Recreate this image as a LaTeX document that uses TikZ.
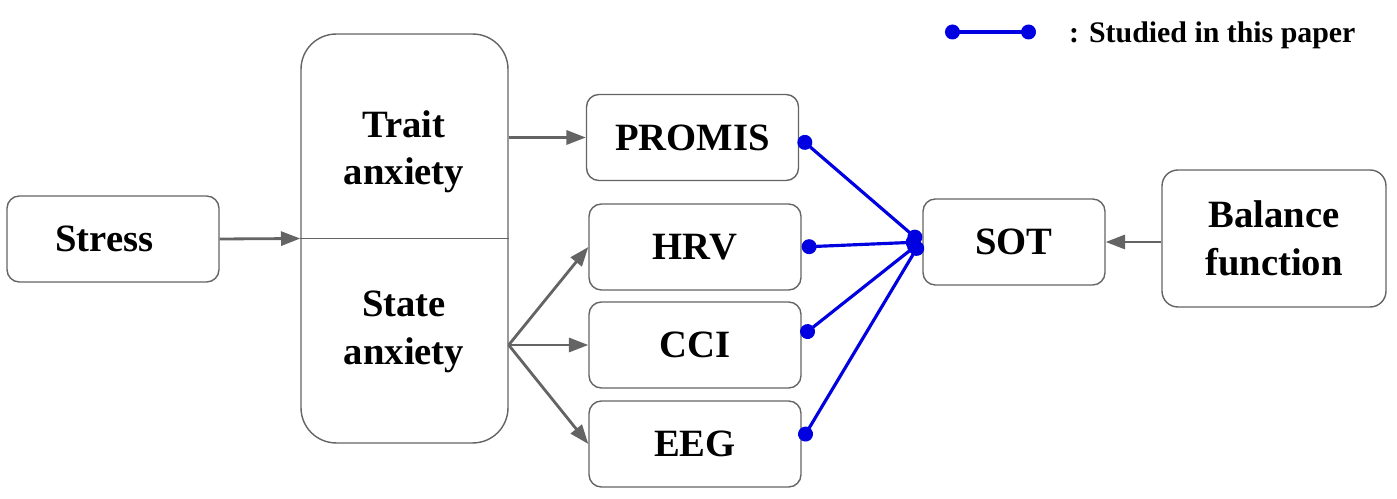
\documentclass[tikz,border=0pt]{standalone}
\usepackage{fontspec}
\setmainfont{Liberation Serif}
\usetikzlibrary{arrows.meta}
\definecolor{linegray}{RGB}{100,100,100}
\definecolor{studyblue}{RGB}{0,0,225}
\tikzstyle{block}=[rectangle, draw=linegray, line width=0.8pt, rounded corners=7pt, align=center, font=\bfseries\fontsize{22}{27}\selectfont, minimum width=4.24cm, minimum height=1.72cm]
\tikzstyle{txt}=[align=center, font=\bfseries\fontsize{22}{27}\selectfont]
\tikzstyle{link}=[draw=linegray, line width=1.6pt, -{Triangle[length=11pt, width=8pt]}]
\tikzstyle{studied}=[draw=studyblue, line width=1.8pt, {Circle[length=8.5pt]}-{Circle[length=8.5pt]}]

\begin{document}
\begin{tikzpicture}[x=0.02cm, y=-0.02cm]
                    \useasboundingbox (0,0) rectangle (1397,499);
                    \node[block] (stress) at (113, 239) {Stress\hspace*{10pt}};
                    \node[block, rounded corners=20pt, minimum width=4.14cm, minimum height=8.18cm] (anx) at (404.5, 238.5) {};
                    \node[txt] (trait) at (404, 152) {Trait\\anxiety};
                    \node[txt] (state) at (404, 332) {State\\anxiety};
                    \node[block] (promis) at (692.5, 137.5) {PROMIS};
                    \node[block] (hrv) at (695, 247) {HRV};
                    \node[block] (cci) at (695, 345) {CCI};
                    \node[block] (eeg) at (695, 444) {EEG};
                    \node[block, minimum width=3.64cm] (sot) at (1014, 242) {SOT};
                    \node[block, rounded corners=9pt, minimum width=4.48cm, minimum height=2.74cm] (bal) at (1274, 238.5) {Balance\\function};
                    \coordinate (hub) at ([xshift=-1pt]sot.west);
                    \coordinate (fork) at (anx.east |- cci.west);
                    \draw[draw=linegray, line width=0.8pt] (anx.west)--(anx.east);
                    \draw[link] (stress.east)--(anx.west);
                    \draw[link] (anx.east |- promis.west)--(promis.west);
                    \draw[link] (fork)--(hrv.west);
                    \draw[link] (fork)--(cci.west);
                    \draw[link] (fork)--(eeg.west);
                    \draw[link] (bal.west |- sot.east)--(sot.east);
                    \draw[studied] (promis.east)--(hub);
                    \draw[studied] (hrv.east)--(hub);
                    \draw[studied] ([yshift=5pt]cci.east)--(hub);
                    \draw[studied] ([yshift=2pt]eeg.east)--(hub);
                    % legend
                    \coordinate (lg1) at (945, 32);
                    \coordinate (lg2) at (1036, 32);
                    \draw[studied] (lg1)--(lg2);
                    \node[anchor=base west, font=\bfseries\fontsize{17}{20}\selectfont] (legend) at (1063, 43) {: Studied in this paper};
                \end{tikzpicture}
\end{document}
